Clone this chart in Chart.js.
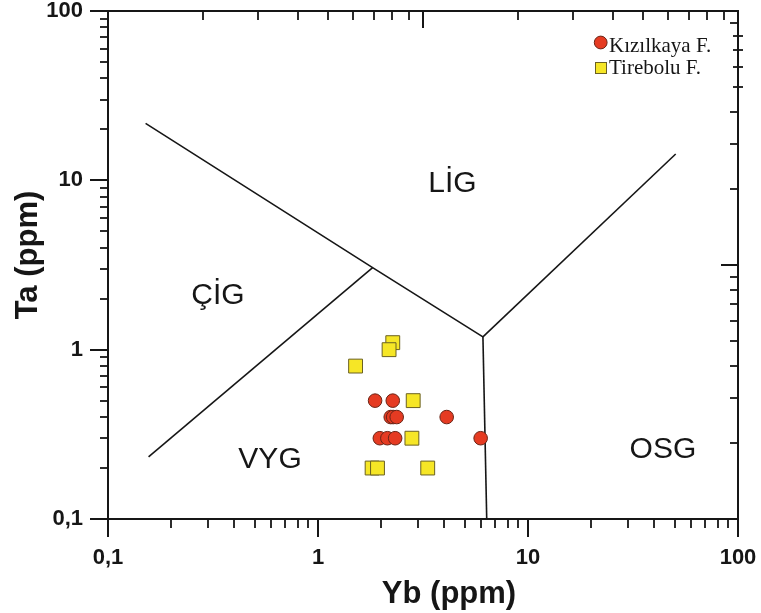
<!DOCTYPE html>
<html>
<head>
<meta charset="utf-8">
<script src="https://cdn.jsdelivr.net/npm/chart.js@4.4.1/dist/chart.umd.min.js"></script>
<style>
  html, body { margin: 0; padding: 0; background: #ffffff; }
  #wrap { width: 761px; height: 613px; }
</style>
</head>
<body>
<div id="wrap"><canvas id="c" width="761" height="613"></canvas></div>
<script>
// Sample analyses: Yb and Ta in ppm
const kizilkayaYb = [1.87, 2.27, 2.22, 2.28, 2.37, 4.10, 1.97, 2.14, 2.33, 5.95];
const kizilkayaTa = [0.50, 0.50, 0.40, 0.40, 0.40, 0.40, 0.30, 0.30, 0.30, 0.30];
const tireboluYb = [2.27, 2.18, 1.51, 2.84, 2.80, 1.81, 1.92, 3.33];
const tireboluTa = [1.10, 1.00, 0.80, 0.50, 0.30, 0.20, 0.20, 0.20];

// Discrimination field boundaries (Yb, Ta)
const upperBoundaryYb = [0.151, 1.82, 6.10];
const upperBoundaryTa = [21.7, 3.05, 1.19];
const lowerBoundaryYb = [0.156, 1.82];
const lowerBoundaryTa = [0.233, 3.05];
const rightBoundaryYb = [6.10, 50.5];
const rightBoundaryTa = [1.19, 14.3];
const verticalBoundaryYb = [6.10, 6.36];
const verticalBoundaryTa = [1.19, 0.10];

// Field names and the (Yb, Ta) point each one sits on
const fieldNames = ['LİG', 'ÇİG', 'VYG', 'OSG'];
const fieldYb = [4.37, 0.334, 0.591, 43.9];
const fieldTa = [8.58, 1.862, 0.200, 0.229];

// Axis tick labels
const tickValues = [0.1, 1, 10, 100];
const tickTexts = ['0,1', '1', '10', '100'];

const seriesNames = ['Kızılkaya F.', 'Tirebolu F.'];

const toPoints = (xs, ys) => xs.map((x, i) => ({ x: x, y: ys[i] }));

const INK = '#161616';
const SANS = "'Liberation Sans', Arial, sans-serif";
const SERIF = "'Liberation Serif', 'Times New Roman', serif";

function tickLabel(v) {
  const i = tickValues.findIndex(t => Math.abs(t - v) < 1e-9 * Math.max(1, t));
  return i >= 0 ? tickTexts[i] : '';
}

function boundary(xs, ys) {
  return {
    data: toPoints(xs, ys),
    showLine: true,
    pointRadius: 0,
    borderColor: INK,
    borderWidth: 1.6,
    fill: false
  };
}

// log tick positions between min and max: n * 10^k
function logTicks(min, max) {
  const out = [];
  const k0 = Math.floor(Math.log10(min) + 1e-9);
  const k1 = Math.ceil(Math.log10(max) - 1e-9);
  for (let k = k0; k <= k1; k++) {
    for (let n = 1; n <= 9; n++) {
      const v = n * Math.pow(10, k);
      if (v >= min * (1 - 1e-9) && v <= max * (1 + 1e-9)) out.push({ v: v, n: n, k: k });
    }
  }
  return out;
}

// fixed box sizes so the plot area lands where it should
function fixBox(size) {
  return s => {
    if (s.isHorizontal()) s.height = size; else s.width = size;
    s.paddingLeft = 0; s.paddingRight = 0; s.paddingTop = 0; s.paddingBottom = 0;
  };
}

const overlay = {
  id: 'overlay',
  afterDraw(chart) {
    const ctx = chart.ctx;
    const a = chart.chartArea;
    const sx = chart.scales.x, sy = chart.scales.y;
    const sx2 = chart.scales.x2, sy2 = chart.scales.y2;
    ctx.save();
    ctx.strokeStyle = INK;
    ctx.lineCap = 'butt';

    // bottom axis: outward ticks
    logTicks(sx.min, sx.max).forEach(t => {
      const p = Math.round(sx.getPixelForValue(t.v));
      const len = t.n === 1 ? 18 : 9;
      ctx.lineWidth = t.n === 1 ? 2 : 1.8;
      ctx.beginPath(); ctx.moveTo(p, a.bottom); ctx.lineTo(p, a.bottom + len); ctx.stroke();
    });
    // left axis: outward ticks
    logTicks(sy.min, sy.max).forEach(t => {
      const p = Math.round(sy.getPixelForValue(t.v));
      const len = t.n === 1 ? 18 : 8;
      ctx.lineWidth = t.n === 1 ? 2 : 1.8;
      ctx.beginPath(); ctx.moveTo(a.left, p); ctx.lineTo(a.left - len, p); ctx.stroke();
    });
    // top axis: inward ticks
    logTicks(sx2.min, sx2.max).forEach(t => {
      const p = Math.round(sx2.getPixelForValue(t.v));
      if (p <= a.left + 1 || p >= a.right - 1) return;
      const len = t.n === 1 ? 17 : 9;
      ctx.lineWidth = t.n === 1 ? 2 : 1.8;
      ctx.beginPath(); ctx.moveTo(p, a.top); ctx.lineTo(p, a.top + len); ctx.stroke();
    });
    // right axis: inward ticks, a few crossing the axis line
    logTicks(sy2.min, sy2.max).forEach(t => {
      const p = Math.round(sy2.getPixelForValue(t.v));
      if (p <= a.top + 1 || p >= a.bottom - 1) return;
      ctx.lineWidth = t.n === 1 ? 2 : 1.8;
      ctx.beginPath();
      if (t.k === 1 && t.n >= 5 && t.n <= 8) {
        ctx.moveTo(a.right - 5, p); ctx.lineTo(a.right + 5, p);
      } else {
        const len = t.n === 1 ? 17 : 8;
        ctx.moveTo(a.right, p); ctx.lineTo(a.right - len, p);
      }
      ctx.stroke();
    });

    // field names
    ctx.fillStyle = INK;
    ctx.font = '30px ' + SANS;
    ctx.textAlign = 'center';
    ctx.textBaseline = 'alphabetic';
    fieldNames.forEach((name, i) => {
      ctx.fillText(name, sx.getPixelForValue(fieldYb[i]), sy.getPixelForValue(fieldTa[i]));
    });

    // axis titles
    ctx.font = 'bold 31px ' + SANS;
    ctx.textBaseline = 'middle';
    ctx.fillText('Yb (ppm)', 449, 594);
    ctx.save();
    ctx.translate(28.5, 255);
    ctx.rotate(-Math.PI / 2);
    ctx.fillText('Ta (ppm)', 0, 0);
    ctx.restore();

    // legend
    const dsK = chart.data.datasets[0], dsT = chart.data.datasets[1];
    ctx.lineWidth = 1;
    ctx.beginPath(); ctx.arc(600.7, 42.5, 6.4, 0, Math.PI * 2);
    ctx.fillStyle = dsK.backgroundColor; ctx.fill();
    ctx.strokeStyle = dsK.borderColor; ctx.stroke();
    ctx.fillStyle = dsT.backgroundColor;
    ctx.fillRect(595.5, 62.5, 11, 11);
    ctx.strokeStyle = dsT.borderColor;
    ctx.strokeRect(595.5, 62.5, 11, 11);
    ctx.fillStyle = INK;
    ctx.font = '21px ' + SERIF;
    ctx.textAlign = 'left';
    ctx.textBaseline = 'alphabetic';
    ctx.fillText(seriesNames[0], 609, 51.5);
    ctx.fillText(seriesNames[1], 609, 73.5);
    ctx.restore();
  }
};

const tickFont = { family: SANS, size: 22, weight: 'bold' };
const axisBorder = { display: true, color: INK, width: 2 };

new Chart(document.getElementById('c'), {
  type: 'scatter',
  data: {
    datasets: [
      {
        label: seriesNames[0],
        data: toPoints(kizilkayaYb, kizilkayaTa),
        pointStyle: 'circle',
        pointRadius: 6.8,
        backgroundColor: '#e53b22',
        borderColor: '#6a2416',
        borderWidth: 1
      },
      {
        label: seriesNames[1],
        data: toPoints(tireboluYb, tireboluTa),
        pointStyle: 'rect',
        pointRadius: 9.8,
        backgroundColor: '#f6e626',
        borderColor: '#6b6122',
        borderWidth: 1
      },
      boundary(upperBoundaryYb, upperBoundaryTa),
      boundary(lowerBoundaryYb, lowerBoundaryTa),
      boundary(rightBoundaryYb, rightBoundaryTa),
      boundary(verticalBoundaryYb, verticalBoundaryTa)
    ]
  },
  options: {
    responsive: false,
    animation: false,
    events: [],
    layout: { padding: 0 },
    plugins: { legend: { display: false }, tooltip: { enabled: false } },
    scales: {
      x: {
        type: 'logarithmic', position: 'bottom', min: 0.1, max: 100,
        grid: { display: false, drawTicks: false },
        border: axisBorder,
        ticks: { autoSkip: false, maxRotation: 0, padding: 26, color: INK, font: tickFont, callback: v => tickLabel(v) },
        afterFit: fixBox(94)
      },
      y: {
        type: 'logarithmic', position: 'left', min: 0.1, max: 100,
        grid: { display: false, drawTicks: false },
        border: axisBorder,
        ticks: { autoSkip: false, padding: 25, color: INK, font: tickFont, callback: v => tickLabel(v) },
        afterFit: fixBox(108)
      },
      x2: {
        type: 'logarithmic', position: 'top', min: 1, max: 100,
        grid: { display: false, drawTicks: false },
        border: axisBorder,
        ticks: { display: false },
        afterFit: fixBox(11)
      },
      y2: {
        type: 'logarithmic', position: 'right', min: 1, max: 100,
        grid: { display: false, drawTicks: false },
        border: axisBorder,
        ticks: { display: false },
        afterFit: fixBox(23)
      }
    }
  },
  plugins: [overlay]
});
</script>
</body>
</html>
